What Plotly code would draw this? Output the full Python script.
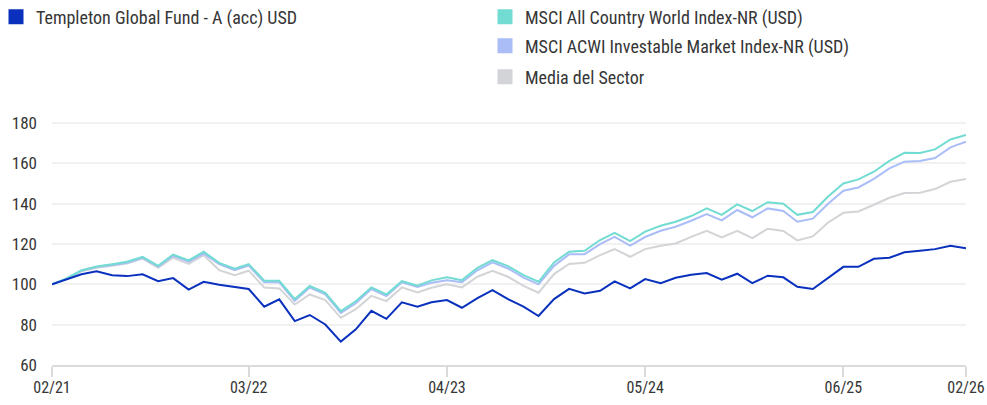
import pandas as pd
import plotly.graph_objects as go

dates = pd.date_range("2021-02-01", "2026-02-01", freq="MS")

fund = [100, 102.5, 105, 106.5, 104.5, 104.1, 105, 101.6, 103.1, 97.4,
        101.3, 99.8, 98.8, 97.7, 88.9, 92.6, 81.8, 84.8, 80.1, 71.6,
        77.7, 86.9, 82.9, 91.1, 88.9, 91.1, 92.2, 88.4, 93.2, 97.2,
        92.7, 89.0, 84.3, 92.7, 97.8, 95.5, 96.8, 101.5, 98.0, 102.6,
        100.6, 103.3, 104.8, 105.6, 102.3, 105.3, 100.6, 104.3, 103.5, 98.8,
        97.7, 103.3, 108.7, 108.7, 112.7, 113.2, 115.9, 116.7, 117.5, 119.2, 117.9]

acwi = [100, 102.8, 107, 108.9, 110, 111.2, 113.7, 109.2, 114.8, 111.9,
        116.2, 110.7, 107.8, 110.1, 101.8, 101.8, 92.7, 99.2, 95.8, 86.7,
        91.6, 98.5, 95, 101.6, 99.3, 102, 103.5, 102.1, 108.2, 112,
        109.1, 104.6, 101.3, 110.9, 116.2, 116.7, 122, 125.6, 121.5, 126.2,
        129.1, 131.1, 133.9, 137.7, 134.5, 139.7, 136.4, 140.8, 140, 134.5,
        135.9, 143.5, 150.1, 152.1, 155.9, 161.3, 165.3, 165.2, 167, 171.9, 174.1]

imi = [100, 102.7, 106.8, 108.6, 109.6, 110.7, 113.2, 108.8, 114.2, 111.3,
       115.3, 110, 107, 109.3, 101, 101, 91.8, 98.4, 95, 85.8,
       90.6, 97.7, 94.2, 101, 98.7, 100.8, 102.1, 101.1, 107, 110.9,
       107.9, 103.3, 100, 109.2, 114.9, 115, 120, 123.6, 119.2, 123.5,
       126.6, 128.6, 131.6, 134.9, 131.8, 136.9, 133.3, 137.7, 136.4, 131.1,
       132.6, 139.9, 146.5, 148.1, 152.4, 157.6, 160.9, 161.2, 162.7, 168, 170.8]

sector = [100, 102.5, 106.5, 108.3, 109.3, 110.3, 112.8, 108.2, 113.2, 110.2,
          114.5, 107.1, 104.5, 106.8, 98.5, 98, 90, 95, 92.2, 83.4,
          87.7, 94.3, 91.7, 98.5, 96, 98.3, 100, 98.5, 103.8, 106.7,
          103.8, 99.3, 95.9, 105.1, 110.1, 110.7, 114.5, 117.5, 113.7, 117.5,
          119.2, 120.3, 123.6, 126.6, 123.3, 126.6, 123, 127.6, 126.5, 121.8,
          123.8, 130.6, 135.5, 136.2, 139.5, 143, 145.3, 145.5, 147.3, 150.9, 152.3]

names = ["Templeton Global Fund - A (acc) USD",
         "MSCI All Country World Index-NR (USD)",
         "MSCI ACWI Investable Market Index-NR (USD)",
         "Media del Sector"]
colors = ["#0a31bd", "#72dcd2", "#aabdf7", "#d3d4d7"]

tick_dates = ["2021-02-01", "2022-03-01", "2023-04-01", "2024-05-01", "2025-06-01", "2026-02-01"]
tick_labels = ["02/21", "03/22", "04/23", "05/24", "06/25", "02/26"]
y_ticks = [60, 80, 100, 120, 140, 160, 180]

FONT = "Roboto Condensed, Liberation Sans Narrow, Roboto, sans-serif"
TXT = "#363636"

fig = go.Figure()
series = [sector, imi, acwi, fund]
order = [3, 2, 1, 0]
for s, k in zip(series, order):
    fig.add_trace(go.Scatter(x=dates, y=s, mode="lines", name=names[k],
                             line=dict(color=colors[k], width=2),
                             showlegend=False, hoverinfo="skip"))

legend_ids = ["legend", "legend2", "legend3", "legend4"]
for k in range(4):
    fig.add_trace(go.Scatter(x=[None], y=[None], mode="markers", name=names[k],
                             marker=dict(symbol="square", size=15, color=colors[k]),
                             legend=legend_ids[k], showlegend=True))

W, H = 987, 405
ml, mr, mt, mb = 52, 21, 103, 40
pw, ph = W - ml - mr, H - mt - mb

def px2paper(xp, yp):
    return (xp - ml) / pw, (H - mb - yp) / ph

leg_pos = [(-4, 17), (485, 17), (485, 46), (485, 77)]
leg_common = dict(font=dict(family=FONT, size=18, color=TXT), bgcolor="rgba(0,0,0,0)",
                  borderwidth=0, itemsizing="trace", xanchor="left", yanchor="middle")
layout_legs = {}
for lid, (xp, yp) in zip(legend_ids, leg_pos):
    lx, ly = px2paper(xp, yp)
    layout_legs[lid] = dict(x=lx, y=ly, **leg_common)

fig.update_layout(
    width=W, height=H,
    margin=dict(l=ml, r=mr, t=mt, b=mb, pad=0, autoexpand=False),
    plot_bgcolor="white", paper_bgcolor="white",
    font=dict(family=FONT, size=17, color=TXT),
    xaxis=dict(type="date", range=[dates[0], dates[-1]],
               tickvals=tick_dates, ticktext=tick_labels,
               showgrid=False, zeroline=False,
               showline=True, linecolor="#dadada", linewidth=2,
               ticks="outside", ticklen=10, tickwidth=2, tickcolor="#dadada",
               ticklabelstandoff=-3,
               tickfont=dict(family=FONT, size=16, color=TXT)),
    yaxis=dict(range=[60, 190], tickvals=y_ticks,
               showgrid=True, gridcolor="#f1f1f1", gridwidth=2,
               zeroline=False, showline=False, ticks="",
               ticklabelstandoff=14,
               tickfont=dict(family=FONT, size=17, color=TXT)),
    **layout_legs,
)

fig.write_html("out.html",
               config={"displayModeBar": False},
               post_script="document.body.style.margin='0';document.body.style.overflow='hidden';")
